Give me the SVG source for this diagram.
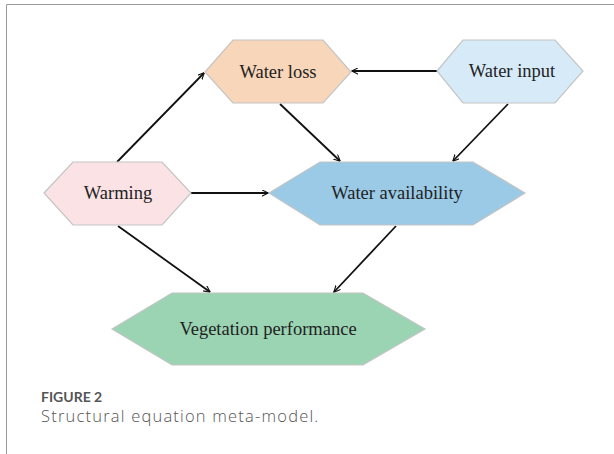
<svg xmlns="http://www.w3.org/2000/svg" width="614" height="454" viewBox="0 0 614 454">
<style>
.hex{stroke:#c4c4c4;stroke-width:1.2}
.lbl{font-family:"Liberation Serif",serif;font-size:18.5px;fill:#222;text-anchor:middle}
.con{stroke:#111;stroke-width:1.8;fill:none;marker-end:url(#ah)}
</style>
<defs>
<marker id="ah" viewBox="0 0 10 10" refX="9" refY="5" markerWidth="7" markerHeight="7" orient="auto" markerUnits="userSpaceOnUse">
<path d="M0,0.5 L9.5,5 L0,9.5" fill="none" stroke="#111" stroke-width="1.6"/>
</marker>
</defs>
<rect width="614" height="454" fill="#fff"/>
<path d="M6.5,454 V4.5 H614" fill="none" stroke="#9a9a9a" stroke-width="1"/>
<g id="connectors">
<line class="con" x1="117" y1="162" x2="204" y2="73"/>
<line class="con" x1="437" y1="71" x2="352" y2="71"/>
<line class="con" x1="280" y1="104" x2="340" y2="161"/>
<line class="con" x1="508" y1="104" x2="453" y2="161"/>
<line class="con" x1="191" y1="193" x2="268" y2="193"/>
<line class="con" x1="118" y1="226" x2="210" y2="292"/>
<line class="con" x1="396" y1="226" x2="334" y2="292"/>
</g>
<g id="water-loss">
<polygon class="hex" fill="#f8d6b9" points="205,72 233,40 323,40 351,72 323,103 233,103"/>
<text class="lbl" x="278" y="78">Water loss</text>
</g>
<g id="water-input">
<polygon class="hex" fill="#d6eaf8" points="437,71 463,40 555,40 583,71 555,103 463,103"/>
<text class="lbl" x="512" y="77">Water input</text>
</g>
<g id="warming">
<polygon class="hex" fill="#fbe3e5" points="44,193 73,162 162,162 191,193 162,225 73,225"/>
<text class="lbl" x="118" y="199">Warming</text>
</g>
<g id="water-availability">
<polygon class="hex" fill="#9acae6" points="269,193 320,162 473,162 525,193 473,225 320,225"/>
<text class="lbl" x="397" y="199">Water availability</text>
</g>
<g id="vegetation-performance">
<polygon class="hex" fill="#9bd4b3" points="112,329 172,293 363,293 425,329 363,365 172,365"/>
<text class="lbl" x="268" y="335">Vegetation performance</text>
</g>
<text x="41" y="402" font-family="Lato,sans-serif" font-size="14" font-weight="700" fill="#555">FIGURE 2</text>
<text x="41" y="422" font-family="'Open Sans',sans-serif" font-size="16.5" letter-spacing="1.2" font-weight="300" fill="#555">Structural equation meta-model.</text>
</svg>
